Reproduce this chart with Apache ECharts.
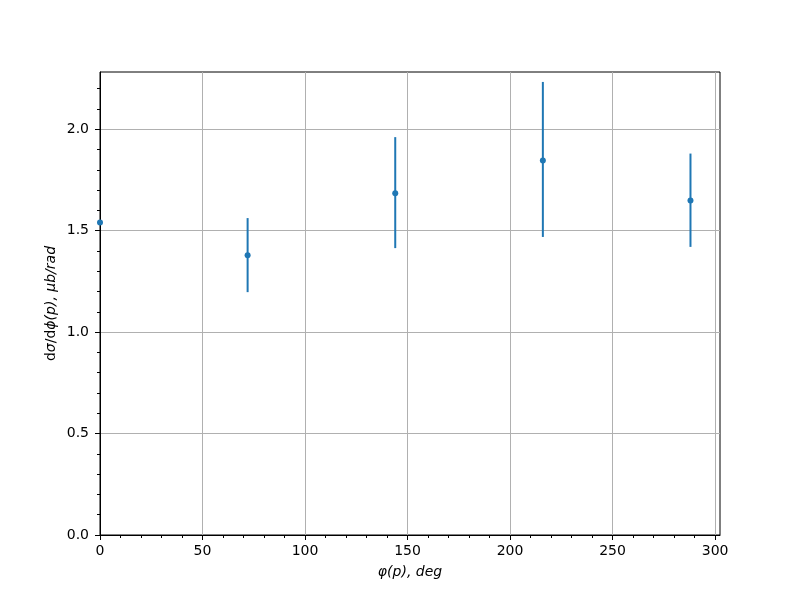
<!DOCTYPE html>
<html><head><meta charset="utf-8">
<script src="https://cdn.jsdelivr.net/npm/echarts@6/dist/echarts.min.js"></script>
<style>html,body{margin:0;padding:0;background:#fff}#c{width:800px;height:600px}</style>
</head><body><div id="c"></div>
<script>
const phiDeg = [0, 72, 144, 216, 288];
const xsec = [1.540, 1.379, 1.685, 1.846, 1.649];
const errLow = [null, 1.197, 1.414, 1.469, 1.420];
const errHigh = [null, 1.562, 1.961, 2.233, 1.880];
const xTicks = [0, 50, 100, 150, 200, 250, 300];
const yTicks = [0.0, 0.5, 1.0, 1.5, 2.0];
const xMinor = [10,20,30,40,60,70,80,90,110,120,130,140,160,170,180,190,210,220,230,240,260,270,280,290];
const yMinor = [0.1,0.2,0.3,0.4,0.6,0.7,0.8,0.9,1.1,1.2,1.3,1.4,1.6,1.7,1.8,1.9,2.1,2.2];
const xMax = 302.4, yMax = 2.282;

const chart = echarts.init(document.getElementById('c'), null, {renderer: 'canvas'});
const font = 'DejaVu Sans';
const errData = phiDeg.map((x, i) => [x, errLow[i], errHigh[i]]).filter(d => d[1] !== null);
const axisCommon = {
  axisLine: {show: true, lineStyle: {color: '#000', width: 1}},
  axisTick: {show: true, inside: false, length: 5, lineStyle: {color: '#000', width: 1}},
  axisLabel: {color: '#000', fontFamily: font, fontSize: 14, margin: 9},
  splitLine: {show: true, lineStyle: {color: '#b0b0b0', width: 1}}
};
chart.setOption({
  animation: false,
  backgroundColor: '#fff',
  grid: {left: 100, right: 80, top: 72, bottom: 65, show: true, borderColor: '#000', borderWidth: 1, backgroundColor: 'transparent'},
  xAxis: [{
    type: 'value', min: 0, max: xMax, interval: 50, position: 'bottom',
    ...axisCommon,
    axisTick: {...axisCommon.axisTick, customValues: xTicks},
    axisLabel: {...axisCommon.axisLabel, customValues: xTicks, formatter: v => String(v)},
    name: '{i|φ(p), deg}', nameLocation: 'middle', nameGap: 30,
    nameTextStyle: {rich: {i: {fontFamily: font, fontStyle: 'italic', fontSize: 14, color: '#000'}}}
  }, {
    type: 'value', min: 0, max: xMax, position: 'bottom', gridIndex: 0,
    axisLine: {show: false}, splitLine: {show: false}, axisLabel: {show: false},
    axisTick: {show: true, length: 3, customValues: xMinor, lineStyle: {color: '#000', width: 1}}
  }],
  yAxis: [{
    type: 'value', min: 0, max: yMax, interval: 0.5, position: 'left',
    ...axisCommon,
    axisTick: {...axisCommon.axisTick, customValues: yTicks},
    axisLabel: {...axisCommon.axisLabel, customValues: yTicks, margin: 11, formatter: v => v.toFixed(1)},
    splitLine: {show: true, lineStyle: {color: '#b0b0b0', width: 1}},
    name: '{u|d}{i|σ}{u|/d}{i|ϕ(p), μb/rad}', nameLocation: 'middle', nameGap: 42, nameRotate: 90,
    nameMoveOverlap: false,
    nameTextStyle: {rich: {
      u: {fontFamily: font, fontSize: 14, color: '#000'},
      i: {fontFamily: font, fontStyle: 'italic', fontSize: 14, color: '#000'}
    }}
  }, {
    type: 'value', min: 0, max: yMax, position: 'left', gridIndex: 0,
    axisLine: {show: false}, splitLine: {show: false}, axisLabel: {show: false},
    axisTick: {show: true, length: 3, customValues: yMinor, lineStyle: {color: '#000', width: 1}}
  }],
  series: [{
    type: 'custom',
    xAxisIndex: 0, yAxisIndex: 0,
    data: errData,
    clip: false,
    z: 3,
    renderItem: function (params, api) {
      const p1 = api.coord([api.value(0), api.value(1)]);
      const p2 = api.coord([api.value(0), api.value(2)]);
      return {type: 'line', shape: {x1: p1[0], y1: p1[1], x2: p2[0], y2: p2[1]},
        style: {stroke: '#1f77b4', lineWidth: 2}};
    }
  }, {
    type: 'scatter',
    xAxisIndex: 0, yAxisIndex: 0,
    data: phiDeg.map((x, i) => [x, xsec[i]]),
    symbol: 'circle', symbolSize: 6,
    itemStyle: {color: '#1f77b4', opacity: 1},
    z: 4,
    clip: false
  }]
});
</script></body></html>
